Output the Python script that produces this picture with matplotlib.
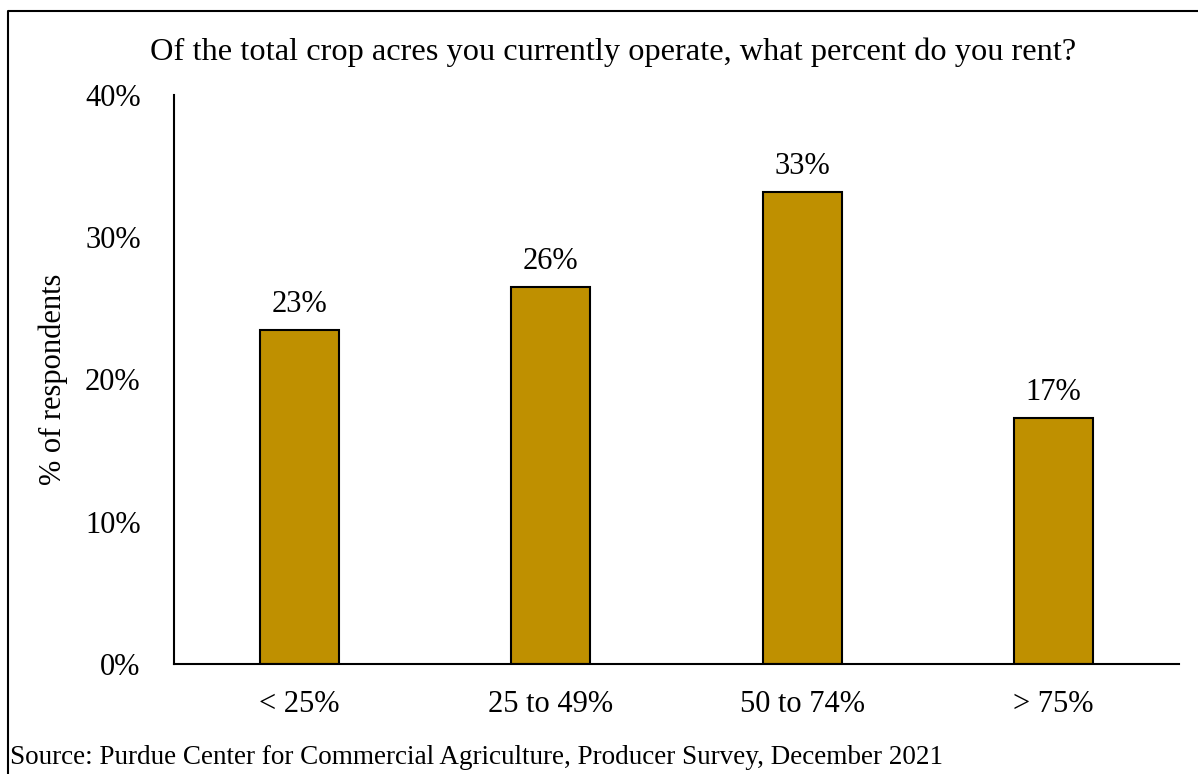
import matplotlib
matplotlib.use("Agg")
from matplotlib import pyplot as plt
from matplotlib.lines import Line2D
from matplotlib.ticker import FuncFormatter

# data
categories = ["< 25%", "25 to 49%", "50 to 74%", "> 75%"]
shares = [23.5, 26.5, 33.2, 17.3]
labels = ["23%", "26%", "33%", "17%"]

BAR_COLOR = "#BF9000"

plt.rcParams['font.family'] = ['Liberation Serif', 'DejaVu Serif']

fig = plt.figure(figsize=(11.98, 7.74), dpi=100)
ax = fig.add_axes([174 / 1198, 1 - 664 / 774, (1179 - 174) / 1198, (664 - 95) / 774])

x = range(len(categories))
bars = ax.bar(x, shares, width=0.314, color=BAR_COLOR, edgecolor="black", linewidth=1.5)

for rect, txt in zip(bars, labels):
    ax.annotate(txt, (rect.get_x() + rect.get_width() / 2, rect.get_height()),
                xytext=(0, 8), textcoords="offset points",
                ha="center", va="bottom", fontsize=22)

ax.set_xlim(-0.5, 3.5)
ax.set_ylim(0, 40)
ax.set_yticks([0, 10, 20, 30, 40])
ax.yaxis.set_major_formatter(FuncFormatter(lambda v, _: f"{v:.0f}%"))
ax.set_xticks(list(x))
ax.set_xticklabels(categories)
ax.tick_params(axis="both", length=0, labelsize=22)
ax.tick_params(axis="x", pad=18.5)
ax.tick_params(axis="y", pad=24)

for side in ("top", "right"):
    ax.spines[side].set_visible(False)
ax.spines["left"].set_linewidth(1.5)
ax.spines["bottom"].set_linewidth(1.5)

ax.set_ylabel("% of respondents", fontsize=22, labelpad=12.5)

fig.text(150 / 1198, 1 - 52 / 774, "Of the total crop acres you currently operate, what percent do you rent?",
         fontsize=23.3, va="center", ha="left")
fig.text(10 / 1198, 1 - 758 / 774, "Source: Purdue Center for Commercial Agriculture, Producer Survey, December 2021",
         fontsize=19.5, va="center", ha="left")

# frame on the left and top of the figure
fig.add_artist(Line2D([8 / 1198, 8 / 1198, 1.0], [0.0, 1 - 11 / 774, 1 - 11 / 774],
                      transform=fig.transFigure, color="black", linewidth=1.5))

fig.savefig("out.png", dpi=100, facecolor="white")
